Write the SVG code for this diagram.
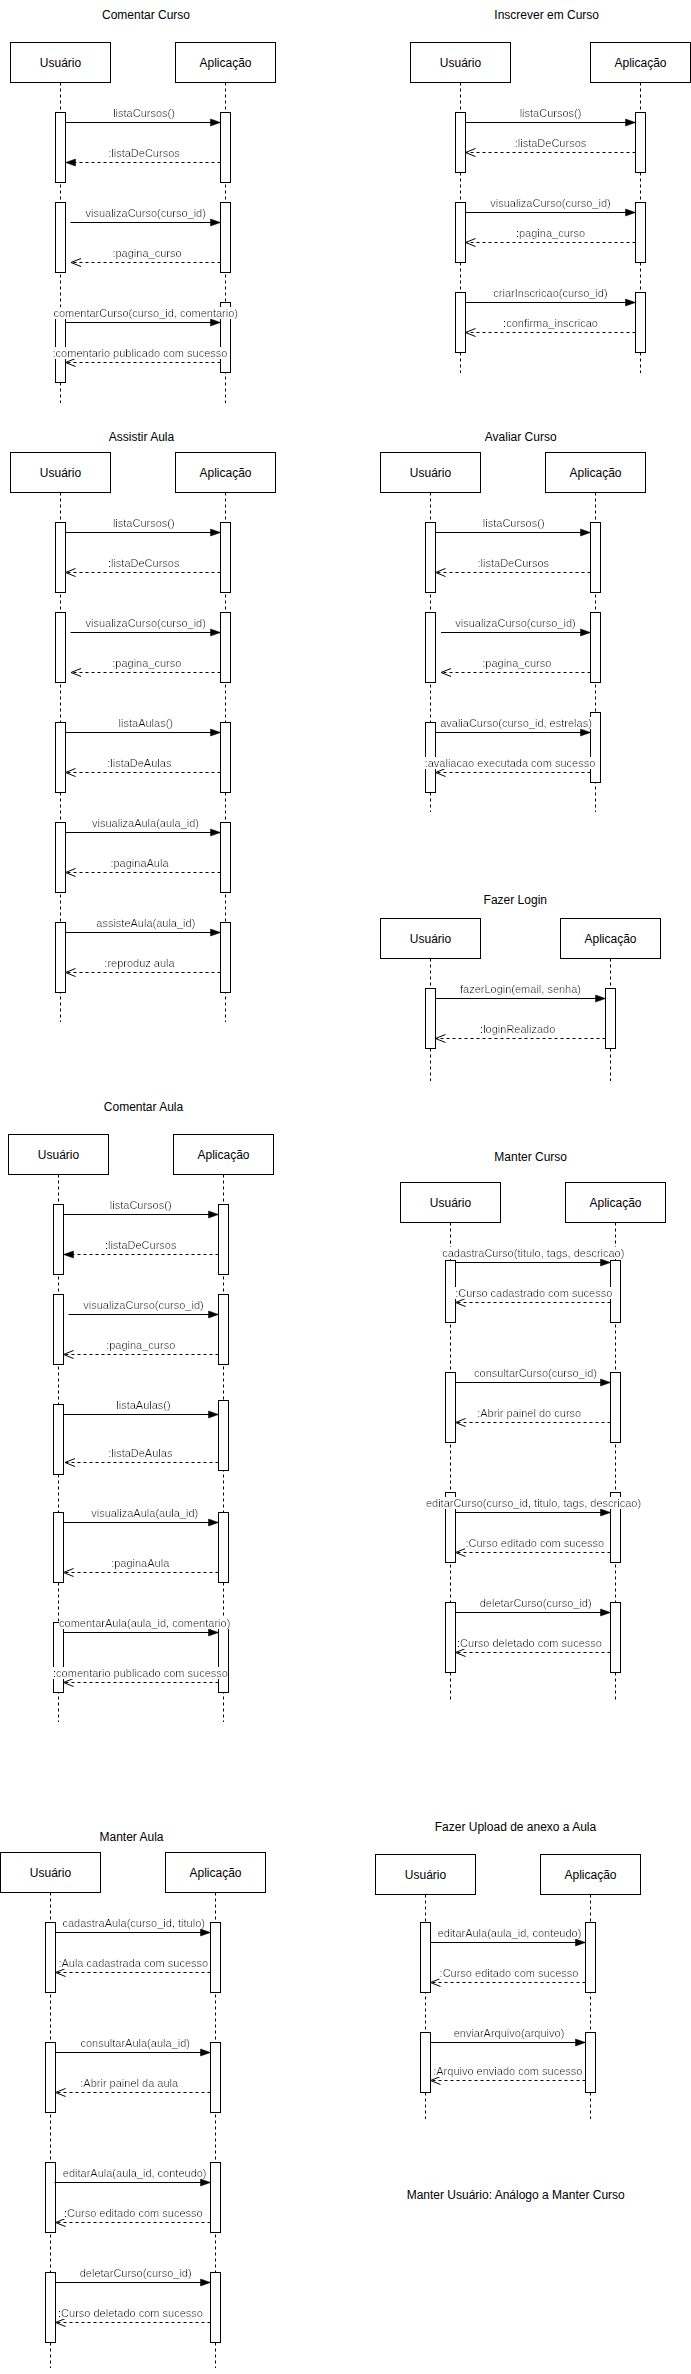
<svg xmlns="http://www.w3.org/2000/svg" width="691" height="2374" viewBox="0 0 691 2374">
<style>
.bg{fill:#fff}
.box{fill:#fff;stroke:#000;stroke-width:1}
.life{fill:none;stroke:#000;stroke-width:1;stroke-dasharray:3 3}
.bar{fill:#fff;stroke:#000;stroke-width:1}
.msg{fill:none;stroke:#000;stroke-width:1;marker-end:url(#fillh)}
.ret{fill:none;stroke:#000;stroke-width:1;stroke-dasharray:3 3;marker-end:url(#openh)}
.retf{fill:none;stroke:#000;stroke-width:1;stroke-dasharray:3 3;marker-end:url(#fillh)}
text{font-family:"Liberation Sans",Arial,Helvetica,sans-serif;fill:#000;text-anchor:middle}
.t{font-size:12px}
.l{font-size:11px;filter:url(#lbg)}
</style>
<defs>
<marker id="fillh" markerUnits="userSpaceOnUse" markerWidth="10" markerHeight="8" refX="10" refY="4" orient="auto" overflow="visible">
<path d="M0,0.5 L10,4 L0,7.5 Z" fill="#000" stroke="#000" stroke-width="0.5"/>
</marker>
<marker id="openh" markerUnits="userSpaceOnUse" markerWidth="10" markerHeight="9" refX="10" refY="4.5" orient="auto" overflow="visible">
<path d="M0,0.5 L10,4.5 L0,8.5" fill="none" stroke="#000" stroke-width="1"/>
</marker>
<filter id="lbg" x="0" y="0" width="1" height="1">
<feFlood flood-color="#ffffff"/>
<feComposite in="SourceGraphic" operator="over"/>
</filter>
</defs>
<rect class="bg" x="0" y="0" width="691" height="2374"/>

<!-- ===== Titles ===== -->
<g id="title-comentar-curso"><text class="t" x="146" y="19">Comentar Curso</text></g>
<g id="title-inscrever-curso"><text class="t" x="546.7" y="19">Inscrever em Curso</text></g>
<g id="title-assistir-aula"><text class="t" x="141.5" y="441">Assistir Aula</text></g>
<g id="title-avaliar-curso"><text class="t" x="520.7" y="441">Avaliar Curso</text></g>
<g id="title-fazer-login"><text class="t" x="515.3" y="904">Fazer Login</text></g>
<g id="title-comentar-aula"><text class="t" x="143.5" y="1111">Comentar Aula</text></g>
<g id="title-manter-curso"><text class="t" x="530.7" y="1161">Manter Curso</text></g>
<g id="title-manter-aula"><text class="t" x="131.5" y="1841">Manter Aula</text></g>
<g id="title-upload-anexo"><text class="t" x="515.5" y="1831">Fazer Upload de anexo a Aula</text></g>
<g id="note-manter-usuario"><text class="t" x="515.7" y="2199">Manter Usuário: Análogo a Manter Curso</text></g>

<!-- ===== D1 Comentar Curso ===== -->
<g id="d1-usuario">
<line class="life" x1="60.5" y1="82.5" x2="60.5" y2="403"/>
<rect class="box" x="10.5" y="42.5" width="100" height="40"/>
<text class="t" x="60.5" y="66.5">Usuário</text>
<rect class="bar" x="55.5" y="112.5" width="10" height="70"/>
<rect class="bar" x="55.5" y="202.5" width="10" height="70"/>
<rect class="bar" x="55.5" y="318.5" width="10" height="64"/>
</g>
<g id="d1-aplicacao">
<line class="life" x1="225.5" y1="82.5" x2="225.5" y2="403"/>
<rect class="box" x="175.5" y="42.5" width="100" height="40"/>
<text class="t" x="225.5" y="66.5">Aplicação</text>
<rect class="bar" x="220.5" y="112.5" width="10" height="70"/>
<rect class="bar" x="220.5" y="202.5" width="10" height="70"/>
<rect class="bar" x="220.5" y="302.5" width="10" height="70"/>
</g>

<!-- ===== D2 Inscrever em Curso ===== -->
<g id="d2-usuario">
<line class="life" x1="460.5" y1="82.5" x2="460.5" y2="373"/>
<rect class="box" x="410.5" y="42.5" width="100" height="40"/>
<text class="t" x="460.5" y="66.5">Usuário</text>
<rect class="bar" x="455.5" y="112.5" width="10" height="60"/>
<rect class="bar" x="455.5" y="202.5" width="10" height="60"/>
<rect class="bar" x="455.5" y="292.5" width="10" height="60"/>
</g>
<g id="d2-aplicacao">
<line class="life" x1="640.5" y1="82.5" x2="640.5" y2="373"/>
<rect class="box" x="590.5" y="42.5" width="100" height="40"/>
<text class="t" x="640.5" y="66.5">Aplicação</text>
<rect class="bar" x="635.5" y="112.5" width="10" height="60"/>
<rect class="bar" x="635.5" y="202.5" width="10" height="60"/>
<rect class="bar" x="635.5" y="292.5" width="10" height="60"/>
</g>

<!-- ===== D3 Assistir Aula ===== -->
<g id="d3-usuario">
<line class="life" x1="60.5" y1="492.5" x2="60.5" y2="1022"/>
<rect class="box" x="10.5" y="452.5" width="100" height="40"/>
<text class="t" x="60.5" y="476.5">Usuário</text>
<rect class="bar" x="55.5" y="522.5" width="10" height="70"/>
<rect class="bar" x="55.5" y="612.5" width="10" height="70"/>
<rect class="bar" x="55.5" y="722.5" width="10" height="70"/>
<rect class="bar" x="55.5" y="822.5" width="10" height="70"/>
<rect class="bar" x="55.5" y="922.5" width="10" height="70"/>
</g>
<g id="d3-aplicacao">
<line class="life" x1="225.5" y1="492.5" x2="225.5" y2="1022"/>
<rect class="box" x="175.5" y="452.5" width="100" height="40"/>
<text class="t" x="225.5" y="476.5">Aplicação</text>
<rect class="bar" x="220.5" y="522.5" width="10" height="70"/>
<rect class="bar" x="220.5" y="612.5" width="10" height="70"/>
<rect class="bar" x="220.5" y="722.5" width="10" height="70"/>
<rect class="bar" x="220.5" y="822.5" width="10" height="70"/>
<rect class="bar" x="220.5" y="922.5" width="10" height="70"/>
</g>

<!-- ===== D4 Avaliar Curso ===== -->
<g id="d4-usuario">
<line class="life" x1="430.5" y1="492.5" x2="430.5" y2="812"/>
<rect class="box" x="380.5" y="452.5" width="100" height="40"/>
<text class="t" x="430.5" y="476.5">Usuário</text>
<rect class="bar" x="425.5" y="522.5" width="10" height="70"/>
<rect class="bar" x="425.5" y="612.5" width="10" height="70"/>
<rect class="bar" x="425.5" y="722.5" width="10" height="70"/>
</g>
<g id="d4-aplicacao">
<line class="life" x1="595.5" y1="492.5" x2="595.5" y2="812"/>
<rect class="box" x="545.5" y="452.5" width="100" height="40"/>
<text class="t" x="595.5" y="476.5">Aplicação</text>
<rect class="bar" x="590.5" y="522.5" width="10" height="70"/>
<rect class="bar" x="590.5" y="612.5" width="10" height="70"/>
<rect class="bar" x="590.5" y="712.5" width="10" height="70"/>
</g>

<!-- ===== D5 Fazer Login ===== -->
<g id="d5-usuario">
<line class="life" x1="430.5" y1="958.5" x2="430.5" y2="1081"/>
<rect class="box" x="380.5" y="918.5" width="100" height="40"/>
<text class="t" x="430.5" y="942.5">Usuário</text>
<rect class="bar" x="425.5" y="988.5" width="10" height="60"/>
</g>
<g id="d5-aplicacao">
<line class="life" x1="610.5" y1="958.5" x2="610.5" y2="1081"/>
<rect class="box" x="560.5" y="918.5" width="100" height="40"/>
<text class="t" x="610.5" y="942.5">Aplicação</text>
<rect class="bar" x="605.5" y="988.5" width="10" height="60"/>
</g>

<!-- ===== D6 Comentar Aula ===== -->
<g id="d6-usuario">
<line class="life" x1="58.5" y1="1174.5" x2="58.5" y2="1722"/>
<rect class="box" x="8.5" y="1134.5" width="100" height="40"/>
<text class="t" x="58.5" y="1158.5">Usuário</text>
<rect class="bar" x="53.5" y="1204.5" width="10" height="70"/>
<rect class="bar" x="53.5" y="1294.5" width="10" height="70"/>
<rect class="bar" x="53.5" y="1404.5" width="10" height="70"/>
<rect class="bar" x="53.5" y="1512.5" width="10" height="70"/>
<rect class="bar" x="53.5" y="1622.5" width="10" height="70"/>
</g>
<g id="d6-aplicacao">
<line class="life" x1="223.5" y1="1174.5" x2="223.5" y2="1722"/>
<rect class="box" x="173.5" y="1134.5" width="100" height="40"/>
<text class="t" x="223.5" y="1158.5">Aplicação</text>
<rect class="bar" x="218.5" y="1204.5" width="10" height="70"/>
<rect class="bar" x="218.5" y="1294.5" width="10" height="70"/>
<rect class="bar" x="218.5" y="1400.5" width="10" height="70"/>
<rect class="bar" x="218.5" y="1512.5" width="10" height="70"/>
<rect class="bar" x="218.5" y="1622.5" width="10" height="70"/>
</g>

<!-- ===== D7 Manter Curso ===== -->
<g id="d7-usuario">
<line class="life" x1="450.5" y1="1222.5" x2="450.5" y2="1700"/>
<rect class="box" x="400.5" y="1182.5" width="100" height="40"/>
<text class="t" x="450.5" y="1206.5">Usuário</text>
<rect class="bar" x="445.5" y="1260.5" width="10" height="62"/>
<rect class="bar" x="445.5" y="1372.5" width="10" height="70"/>
<rect class="bar" x="445.5" y="1492.5" width="10" height="70"/>
<rect class="bar" x="445.5" y="1602.5" width="10" height="70"/>
</g>
<g id="d7-aplicacao">
<line class="life" x1="615.5" y1="1222.5" x2="615.5" y2="1700"/>
<rect class="box" x="565.5" y="1182.5" width="100" height="40"/>
<text class="t" x="615.5" y="1206.5">Aplicação</text>
<rect class="bar" x="610.5" y="1260.5" width="10" height="62"/>
<rect class="bar" x="610.5" y="1372.5" width="10" height="70"/>
<rect class="bar" x="610.5" y="1492.5" width="10" height="70"/>
<rect class="bar" x="610.5" y="1602.5" width="10" height="70"/>
</g>

<!-- ===== D8 Manter Aula ===== -->
<g id="d8-usuario">
<line class="life" x1="50.5" y1="1892.5" x2="50.5" y2="2368"/>
<rect class="box" x="0.5" y="1852.5" width="100" height="40"/>
<text class="t" x="50.5" y="1876.5">Usuário</text>
<rect class="bar" x="45.5" y="1922.5" width="10" height="70"/>
<rect class="bar" x="45.5" y="2042.5" width="10" height="70"/>
<rect class="bar" x="45.5" y="2162.5" width="10" height="70"/>
<rect class="bar" x="45.5" y="2272.5" width="10" height="70"/>
</g>
<g id="d8-aplicacao">
<line class="life" x1="215.5" y1="1892.5" x2="215.5" y2="2368"/>
<rect class="box" x="165.5" y="1852.5" width="100" height="40"/>
<text class="t" x="215.5" y="1876.5">Aplicação</text>
<rect class="bar" x="210.5" y="1922.5" width="10" height="70"/>
<rect class="bar" x="210.5" y="2042.5" width="10" height="70"/>
<rect class="bar" x="210.5" y="2162.5" width="10" height="70"/>
<rect class="bar" x="210.5" y="2272.5" width="10" height="70"/>
</g>

<!-- ===== D9 Fazer Upload ===== -->
<g id="d9-usuario">
<line class="life" x1="425.5" y1="1894.5" x2="425.5" y2="2119"/>
<rect class="box" x="375.5" y="1854.5" width="100" height="40"/>
<text class="t" x="425.5" y="1878.5">Usuário</text>
<rect class="bar" x="420.5" y="1922.5" width="10" height="70"/>
<rect class="bar" x="420.5" y="2032.5" width="10" height="60"/>
</g>
<g id="d9-aplicacao">
<line class="life" x1="590.5" y1="1894.5" x2="590.5" y2="2119"/>
<rect class="box" x="540.5" y="1854.5" width="100" height="40"/>
<text class="t" x="590.5" y="1878.5">Aplicação</text>
<rect class="bar" x="585.5" y="1922.5" width="10" height="70"/>
<rect class="bar" x="585.5" y="2032.5" width="10" height="60"/>
</g>

<!-- ===== Connectors (messages) ===== -->
<g id="connectors">
<!-- D1 -->
<path class="msg" d="M65.5,122.5 H220.5"/><text class="l" x="144" y="117">listaCursos()</text>
<path class="retf" d="M220.5,162.5 H65.5"/><text class="l" x="144" y="157">:listaDeCursos</text>
<path class="msg" d="M70.5,222.5 H220.5"/><text class="l" x="145.7" y="217">visualizaCurso(curso_id)</text>
<path class="ret" d="M220.5,262.5 H71"/><text class="l" x="147" y="257">:pagina_curso</text>
<path class="msg" d="M65.5,322.5 H220.5"/><text class="l" x="145.7" y="317">comentarCurso(curso_id, comentario)</text>
<path class="ret" d="M220.5,362.5 H65.5"/><text class="l" x="140" y="357">:comentario publicado com sucesso</text>
<!-- D2 -->
<path class="msg" d="M465.5,122.5 H635.5"/><text class="l" x="550.5" y="117">listaCursos()</text>
<path class="ret" d="M635.5,152.5 H465.5"/><text class="l" x="550.5" y="147">:listaDeCursos</text>
<path class="msg" d="M465.5,212.5 H635.5"/><text class="l" x="550.5" y="207">visualizaCurso(curso_id)</text>
<path class="ret" d="M635.5,242.5 H465.5"/><text class="l" x="550.5" y="237">:pagina_curso</text>
<path class="msg" d="M465.5,302.5 H635.5"/><text class="l" x="550.5" y="297">criarInscricao(curso_id)</text>
<path class="ret" d="M635.5,332.5 H465.5"/><text class="l" x="550.5" y="327">:confirma_inscricao</text>
<!-- D3 -->
<path class="msg" d="M65.5,532.5 H220.5"/><text class="l" x="143.8" y="527">listaCursos()</text>
<path class="ret" d="M220.5,572.5 H65.5"/><text class="l" x="143.7" y="567">:listaDeCursos</text>
<path class="msg" d="M70.5,632.5 H220.5"/><text class="l" x="145.7" y="627">visualizaCurso(curso_id)</text>
<path class="ret" d="M220.5,672.5 H71"/><text class="l" x="146.8" y="667">:pagina_curso</text>
<path class="msg" d="M65.5,732.5 H220.5"/><text class="l" x="145.8" y="727">listaAulas()</text>
<path class="ret" d="M220.5,772.5 H65.5"/><text class="l" x="139.3" y="767">:listaDeAulas</text>
<path class="msg" d="M65.5,832.5 H220.5"/><text class="l" x="145.5" y="827">visualizaAula(aula_id)</text>
<path class="ret" d="M220.5,872.5 H65.5"/><text class="l" x="139.5" y="867">:paginaAula</text>
<path class="msg" d="M65.5,932.5 H220.5"/><text class="l" x="145.8" y="927">assisteAula(aula_id)</text>
<path class="ret" d="M220.5,972.5 H65.5"/><text class="l" x="139.5" y="967">:reproduz aula</text>
<!-- D4 -->
<path class="msg" d="M435.5,532.5 H590.5"/><text class="l" x="513.7" y="527">listaCursos()</text>
<path class="ret" d="M590.5,572.5 H435.5"/><text class="l" x="513.3" y="567">:listaDeCursos</text>
<path class="msg" d="M441,632.5 H590.5"/><text class="l" x="515.5" y="627">visualizaCurso(curso_id)</text>
<path class="ret" d="M590.5,672.5 H441"/><text class="l" x="516.8" y="667">:pagina_curso</text>
<path class="msg" d="M435.5,732.5 H590.5"/><text class="l" x="516" y="727">avaliaCurso(curso_id, estrelas)</text>
<path class="ret" d="M590.5,772.5 H435.5"/><text class="l" x="510" y="767">:avaliacao executada com sucesso</text>
<!-- D5 -->
<path class="msg" d="M435.5,998.5 H605.5"/><text class="l" x="520.5" y="993">fazerLogin(email, senha)</text>
<path class="ret" d="M605.5,1038.5 H435.5"/><text class="l" x="517.7" y="1033">:loginRealizado</text>
<!-- D6 -->
<path class="msg" d="M63.5,1214.5 H218.5"/><text class="l" x="140.7" y="1209">listaCursos()</text>
<path class="retf" d="M218.5,1254.5 H63.5"/><text class="l" x="140.7" y="1249">:listaDeCursos</text>
<path class="msg" d="M68.5,1314.5 H218.5"/><text class="l" x="143.5" y="1309">visualizaCurso(curso_id)</text>
<path class="ret" d="M218.5,1354.5 H63.5"/><text class="l" x="140.7" y="1349">:pagina_curso</text>
<path class="msg" d="M63.5,1414.5 H218.5"/><text class="l" x="143.5" y="1409">listaAulas()</text>
<path class="ret" d="M218.5,1462.5 H65"/><text class="l" x="140.3" y="1457">:listaDeAulas</text>
<path class="msg" d="M63.5,1522.5 H218.5"/><text class="l" x="144.7" y="1517">visualizaAula(aula_id)</text>
<path class="ret" d="M218.5,1572.5 H63.5"/><text class="l" x="140.2" y="1567">:paginaAula</text>
<path class="msg" d="M63.5,1632.5 H218.5"/><text class="l" x="144.7" y="1627">comentarAula(aula_id, comentario)</text>
<path class="ret" d="M218.5,1682.5 H63.5"/><text class="l" x="140.5" y="1677">:comentario publicado com sucesso</text>
<!-- D7 -->
<path class="msg" d="M455.5,1262.5 H610.5"/><text class="l" x="533.3" y="1257">cadastraCurso(titulo, tags, descricao)</text>
<path class="ret" d="M610.5,1302.5 H455.5"/><text class="l" x="533.7" y="1297">:Curso cadastrado com sucesso</text>
<path class="msg" d="M455.5,1382.5 H610.5"/><text class="l" x="535.5" y="1377">consultarCurso(curso_id)</text>
<path class="ret" d="M610.5,1422.5 H455.5"/><text class="l" x="529.2" y="1417">:Abrir painel do curso</text>
<path class="msg" d="M455.5,1512.5 H610.5"/><text class="l" x="533.5" y="1507">editarCurso(curso_id, titulo, tags, descricao)</text>
<path class="ret" d="M610.5,1552.5 H455.5"/><text class="l" x="534.8" y="1547">:Curso editado com sucesso</text>
<path class="msg" d="M455.5,1612.5 H610.5"/><text class="l" x="535.7" y="1607">deletarCurso(curso_id)</text>
<path class="ret" d="M610.5,1652.5 H455.5"/><text class="l" x="529.5" y="1647">:Curso deletado com sucesso</text>
<!-- D8 -->
<path class="msg" d="M55.5,1932.5 H210.5"/><text class="l" x="133.7" y="1927">cadastraAula(curso_id, titulo)</text>
<path class="ret" d="M210.5,1972.5 H55.5"/><text class="l" x="133.3" y="1967">:Aula cadastrada com sucesso</text>
<path class="msg" d="M55.5,2052.5 H210.5"/><text class="l" x="135.2" y="2047">consultarAula(aula_id)</text>
<path class="ret" d="M210.5,2092.5 H55.5"/><text class="l" x="129.2" y="2087">:Abrir painel da aula</text>
<path class="msg" d="M54.5,2182.5 H210.5"/><text class="l" x="134.7" y="2177">editarAula(aula_id, conteudo)</text>
<path class="ret" d="M210.5,2222.5 H55.5"/><text class="l" x="133.3" y="2217">:Curso editado com sucesso</text>
<path class="msg" d="M55.5,2282.5 H210.5"/><text class="l" x="135.7" y="2277">deletarCurso(curso_id)</text>
<path class="ret" d="M210.5,2322.5 H55.5"/><text class="l" x="130.5" y="2317">:Curso deletado com sucesso</text>
<!-- D9 -->
<path class="msg" d="M430,1942.5 H585.5"/><text class="l" x="509.5" y="1937">editarAula(aula_id, conteudo)</text>
<path class="ret" d="M585.5,1982.5 H430.5"/><text class="l" x="509" y="1977">:Curso editado com sucesso</text>
<path class="msg" d="M430.5,2042.5 H585.5"/><text class="l" x="509" y="2037">enviarArquivo(arquivo)</text>
<path class="ret" d="M585.5,2080.5 H430.5"/><text class="l" x="507.8" y="2075">:Arquivo enviado com sucesso</text>
</g>
</svg>
